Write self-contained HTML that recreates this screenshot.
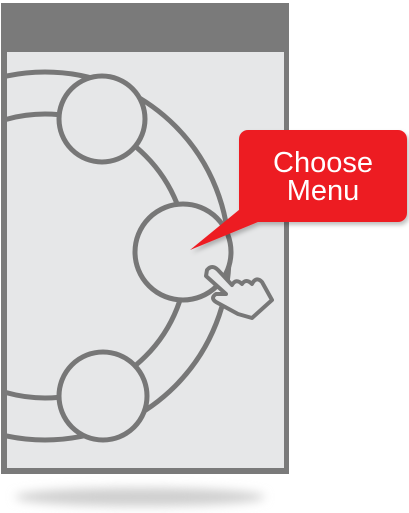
<!DOCTYPE html>
<html><head><meta charset="utf-8"><style>
html,body{margin:0;padding:0;background:#fff;}
svg{display:block;}
</style></head><body>
<svg width="409" height="513" viewBox="0 0 409 513">
<defs>
<filter id="blur" x="-20%" y="-200%" width="140%" height="500%"><feGaussianBlur stdDeviation="5"/></filter>
<filter id="sh" x="-10%" y="-10%" width="130%" height="130%"><feDropShadow dx="2" dy="3" stdDeviation="2" flood-color="#000" flood-opacity="0.25"/></filter>
<clipPath id="scr"><rect x="7" y="52" width="277" height="418"/></clipPath>
</defs>
<ellipse cx="140" cy="497" rx="125" ry="9" fill="#cfcfcf" filter="url(#blur)"/>
<g>
<rect x="1" y="3" width="288" height="471" fill="#7a7a7a"/>
<rect x="7" y="52" width="277" height="416" fill="#e6e7e8"/>
</g>
<g clip-path="url(#scr)" fill="none" stroke="#777" stroke-width="5">
<circle cx="45" cy="256" r="184"/>
<circle cx="45" cy="256" r="142"/>
</g>
<g fill="#e6e7e8" stroke="#777" stroke-width="5">
<circle cx="102" cy="119" r="43"/>
<circle cx="183" cy="252" r="48"/>
<circle cx="103" cy="396" r="44"/>
</g>
<path d="M207 270 Q212 264 218 270 L232 285 Q236 278 242 284 Q246 278 252 284 Q256 276 262 282 L272 300 L252 318 L238 314 L216 302 Q210 298 216 294 L226 294 L206 276 Z" fill="#e6e7e8" stroke="#777" stroke-width="4" stroke-linejoin="round"/>
<g filter="url(#sh)">
<rect x="239" y="130" width="168" height="92" rx="9" fill="#ed1c24"/>
<path d="M245 205 L190 250 L275 215 Z" fill="#ed1c24"/>
</g>
<text x="323" y="172" text-anchor="middle" font-family="Liberation Sans, sans-serif" font-size="29" fill="#fff">Choose</text>
<text x="323" y="200" text-anchor="middle" font-family="Liberation Sans, sans-serif" font-size="29" fill="#fff">Menu</text>
</svg>
</body></html>
